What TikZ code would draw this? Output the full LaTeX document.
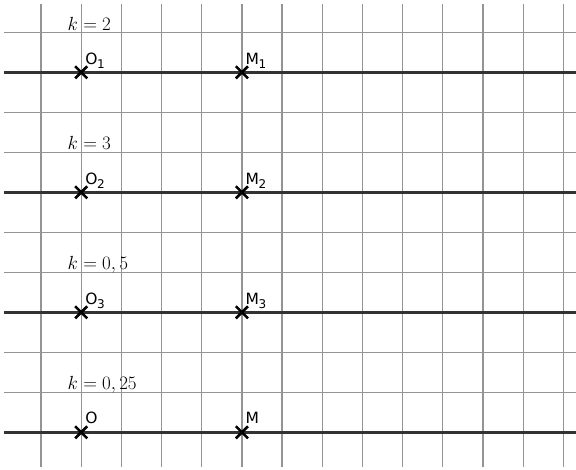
\RequirePackage{fix-cm}
\documentclass[tikz,border=0pt]{standalone}
\usepackage{fontspec}
\newfontfamily\lblfont{DejaVu Sans}
\usetikzlibrary{shapes.misc}
\newcommand\lsub[1]{\kern-0.4pt\raisebox{-4.8pt}{\fontsize{12}{14}\selectfont #1}}
\begin{document}
\begin{tikzpicture}[x=1pt,y=-1pt,
  gridline/.style={draw=black!42,line width=1.2pt},
  axisline/.style={draw=black!80,line width=2.6pt},
  crossmark/.style={cross out,draw=black,line width=2.6pt,minimum size=9.5pt,inner sep=0pt},
  ptlabel/.style={anchor=base west,inner sep=0pt,font=\lblfont\fontsize{15.5}{18}\selectfont},
  klabel/.style={anchor=base west,inner sep=0pt,font=\fontsize{19}{22}\selectfont}]
\useasboundingbox (0,0) rectangle (576,469);
% grid
\foreach \i in {0,...,13}{\draw[gridline] ({41+40.18*\i},4) -- ({41+40.18*\i},467);}
\foreach \j in {0,...,10}{\draw[gridline] (4,{32.3+40*\j}) -- (576,{32.3+40*\j});}
% row 1
\coordinate (L1) at (4,72.3); \coordinate (R1) at (576,72.3);
\draw[axisline] (L1) -- (R1);
\node[crossmark] (O1) at (81.2,72.3) {};
\node[crossmark] (M1) at (241.9,72.3) {};
\node[ptlabel] (O1l) at (85.2,64) {O\lsub{1}};
\node[ptlabel] (M1l) at (245.4,64) {M\lsub{1}};
\node[klabel] (k1) at (67.5,30) {$k=2$};
% row 2
\coordinate (L2) at (4,192.3); \coordinate (R2) at (576,192.3);
\draw[axisline] (L2) -- (R2);
\node[crossmark] (O2) at (81.2,192.3) {};
\node[crossmark] (M2) at (241.9,192.3) {};
\node[ptlabel] (O2l) at (85.2,184) {O\lsub{2}};
\node[ptlabel] (M2l) at (245.4,184) {M\lsub{2}};
\node[klabel] (k2) at (67.5,149.5) {$k=3$};
% row 3
\coordinate (L3) at (4,312.3); \coordinate (R3) at (576,312.3);
\draw[axisline] (L3) -- (R3);
\node[crossmark] (O3) at (81.2,312.3) {};
\node[crossmark] (M3) at (241.9,312.3) {};
\node[ptlabel] (O3l) at (85.2,304) {O\lsub{3}};
\node[ptlabel] (M3l) at (245.4,304) {M\lsub{3}};
\node[klabel] (k3) at (67.5,269.5) {$k=0,5$};
% row 4
\coordinate (L4) at (4,432.3); \coordinate (R4) at (576,432.3);
\draw[axisline] (L4) -- (R4);
\node[crossmark] (O4) at (81.2,432.3) {};
\node[crossmark] (M4) at (241.9,432.3) {};
\node[ptlabel] (O4l) at (85.2,423.5) {O};
\node[ptlabel] (M4l) at (245.4,423.5) {M};
\node[klabel] (k4) at (67.5,389.5) {$k=0,25$};
\end{tikzpicture}
\end{document}
